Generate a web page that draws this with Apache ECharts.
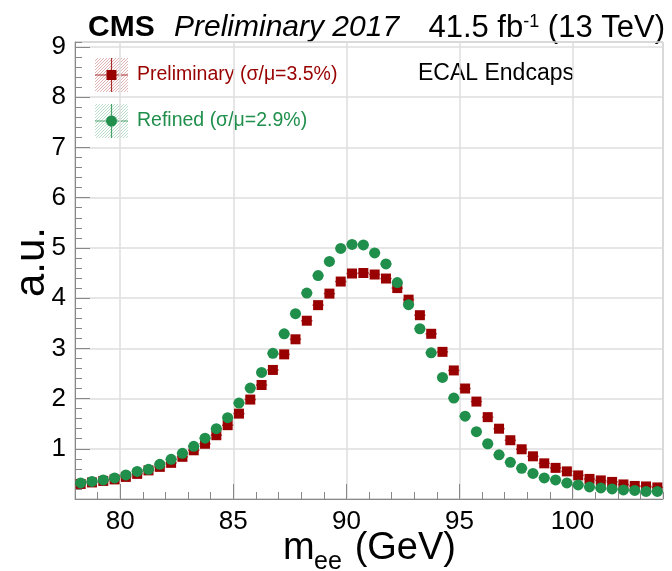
<!DOCTYPE html>
<html><head><meta charset="utf-8">
<script src="https://cdn.jsdelivr.net/npm/echarts@6/dist/echarts.min.js"></script>
<style>html,body{margin:0;padding:0;background:#fff}#c{width:672px;height:571px}</style>
</head><body><div id="c"></div>
<script>
// bin centres (GeV), 0.5 GeV bins
const massBins = [78.25,78.75,79.25,79.75,80.25,80.75,81.25,81.75,82.25,82.75,
  83.25,83.75,84.25,84.75,85.25,85.75,86.25,86.75,87.25,87.75,
  88.25,88.75,89.25,89.75,90.25,90.75,91.25,91.75,92.25,92.75,
  93.25,93.75,94.25,94.75,95.25,95.75,96.25,96.75,97.25,97.75,
  98.25,98.75,99.25,99.75,100.25,100.75,101.25,101.75,102.25,102.75,103.25,103.75];
const preliminary = [0.30,0.33,0.36,0.39,0.44,0.50,0.57,0.64,0.72,0.84,
  0.97,1.10,1.27,1.47,1.70,1.98,2.27,2.57,2.88,3.18,
  3.55,3.86,4.09,4.33,4.49,4.50,4.47,4.39,4.20,3.97,
  3.66,3.29,2.93,2.56,2.20,1.94,1.63,1.40,1.17,0.99,
  0.85,0.71,0.62,0.55,0.47,0.40,0.37,0.34,0.29,0.26,0.25,0.23];
const refined = [0.32,0.35,0.38,0.42,0.48,0.55,0.59,0.69,0.79,0.91,
  1.05,1.21,1.40,1.62,1.91,2.21,2.52,2.90,3.29,3.69,
  4.10,4.45,4.73,4.99,5.07,5.06,4.90,4.68,4.31,3.87,
  3.39,2.91,2.42,2.01,1.65,1.34,1.10,0.88,0.73,0.61,
  0.51,0.42,0.38,0.32,0.28,0.24,0.22,0.20,0.18,0.17,0.15,0.15];
const xTickLabels = ['80','85','90','95','100'];
const yTickLabels = ['1','2','3','4','5','6','7','8','9'];
const legendNames = ['Preliminary (σ/μ=3.5%)','Refined (σ/μ=2.9%)'];

const RED = '#990000', GREEN = '#1f8f4b';
const FONT = '"Liberation Sans", Arial, Helvetica, sans-serif';
const halfBin = 0.25;

function hatch(color){
  const cv = document.createElement('canvas'); cv.width = 3; cv.height = 3;
  const g = cv.getContext('2d');
  g.strokeStyle = color; g.lineWidth = 1;
  g.beginPath(); g.moveTo(0,3); g.lineTo(3,0); g.stroke();
  return {image: cv, repeat: 'repeat'};
}

const chart = echarts.init(document.getElementById('c'), null, {renderer:'canvas'});
const pts = arr => massBins.map((m,i)=>[m, arr[i]]);
function errBars(color){
  return function(params, api){
    const x = api.value(0), y = api.value(1);
    const a = api.coord([x-halfBin, y]), b = api.coord([x+halfBin, y]);
    return {type:'line', shape:{x1:a[0],y1:a[1],x2:b[0],y2:b[1]}, style:{stroke:color, lineWidth:1.5, opacity:0.7}};
  };
}
chart.setOption({
  animation:false,
  grid: {left:75, right:9, top:42, bottom:72, show:true, borderColor:'#999', borderWidth:1},
  xAxis: [{
    type:'value', min:78, max:104, splitNumber:5,
    axisLine:{show:true, lineStyle:{color:'#888'}},
    axisTick:{show:true, inside:true, length:15, lineStyle:{color:'#888'}},
    axisLabel:{color:'#000', fontSize:26, fontFamily:FONT, margin:10, showMinLabel:false, showMaxLabel:false,
      formatter: v => xTickLabels.indexOf(String(v))>=0 ? String(v) : ''},
    splitLine:{show:true, lineStyle:{color:'#dedede', width:1.5}}
  },{
    type:'value', min:78, max:104, interval:1, position:'bottom',
    axisLine:{show:false}, axisLabel:{show:false}, splitLine:{show:false},
    axisTick:{show:true, inside:true, length:7, lineStyle:{color:'#888'}}
  }],
  yAxis: [{
    type:'value', min:0, max:9.1, interval:1,
    axisLine:{show:true, lineStyle:{color:'#888'}},
    axisTick:{show:true, inside:true, length:15, lineStyle:{color:'#888'}},
    axisLabel:{color:'#000', fontSize:26, fontFamily:FONT, margin:9, showMinLabel:false, showMaxLabel:false,
      formatter: v => yTickLabels.indexOf(String(v))>=0 ? String(v) : ''},
    splitLine:{show:true, lineStyle:{color:'#dedede', width:1.5}}
  },{
    type:'value', min:0, max:9.1, interval:0.2, position:'left',
    axisLine:{show:false}, axisLabel:{show:false}, splitLine:{show:false},
    axisTick:{show:true, inside:true, length:7, lineStyle:{color:'#888'}}
  }],
  series: [
    {type:'custom', renderItem: errBars(RED), data: pts(preliminary), z:2, silent:true},
    {type:'scatter', data: pts(preliminary), symbol:'rect', symbolSize:10, itemStyle:{color:RED, opacity:1}, z:3},
    {type:'custom', renderItem: errBars(GREEN), data: pts(refined), z:4, silent:true},
    {type:'scatter', data: pts(refined), symbol:'circle', symbolSize:11, itemStyle:{color:GREEN, opacity:1}, z:5}
  ],
  graphic: [
    {type:'text', x:88, y:43, style:{text:'CMS', font:'bold 30px '+FONT, fill:'#000', textVerticalAlign:'bottom'}},
    {type:'text', x:174, y:43, style:{text:'Preliminary 2017', font:'italic 30px '+FONT, fill:'#000', textVerticalAlign:'bottom'}},
    {type:'text', x:665, y:44, style:{
      text:'{a|41.5 fb}{s|-1}{a| (13 TeV)}', textAlign:'right', textVerticalAlign:'bottom',
      rich:{a:{font:'31px '+FONT, fill:'#000', verticalAlign:'bottom'}, s:{font:'18px '+FONT, fill:'#000', verticalAlign:'top'}}
    }},
    {type:'text', x:418, y:74, style:{text:'ECAL Endcaps', font:'23px '+FONT, fill:'#000', textVerticalAlign:'middle'}},
    // legend
    {type:'rect', shape:{x:95,y:58,width:33,height:34}, style:{fill: hatch('rgba(153,0,0,0.3)')}},
    {type:'line', shape:{x1:95,y1:75,x2:128,y2:75}, style:{stroke:RED, lineWidth:1.2, opacity:0.8}},
    {type:'line', shape:{x1:111.5,y1:58,x2:111.5,y2:92}, style:{stroke:RED, lineWidth:1.2, opacity:0.8}},
    {type:'rect', shape:{x:106.5,y:70,width:10,height:10}, style:{fill:RED}},
    {type:'text', x:137, y:75, style:{text:legendNames[0], font:'19.5px '+FONT, fill:RED, textVerticalAlign:'middle'}},
    {type:'rect', shape:{x:95,y:104,width:33,height:34}, style:{fill: hatch('rgba(31,143,75,0.3)')}},
    {type:'line', shape:{x1:95,y1:121,x2:128,y2:121}, style:{stroke:GREEN, lineWidth:1.2, opacity:0.8}},
    {type:'line', shape:{x1:111.5,y1:104,x2:111.5,y2:138}, style:{stroke:GREEN, lineWidth:1.2, opacity:0.8}},
    {type:'circle', shape:{cx:111.5,cy:121,r:5.5}, style:{fill:GREEN}},
    {type:'text', x:137, y:121, style:{text:legendNames[1], font:'19.5px '+FONT, fill:GREEN, textVerticalAlign:'middle'}},
    // axis titles
    {type:'text', x:53, y:227, rotation:Math.PI/2, style:{text:'a.u.', font:'42px '+FONT, fill:'#000', textAlign:'right', textVerticalAlign:'bottom'}},
    {type:'text', x:283, y:549, style:{text:'m', font:'38px '+FONT, fill:'#000', textVerticalAlign:'middle'}},
    {type:'text', x:314, y:562, style:{text:'ee', font:'25px '+FONT, fill:'#000', textVerticalAlign:'middle'}},
    {type:'text', x:456, y:549, style:{text:'(GeV)', font:'38px '+FONT, fill:'#000', textAlign:'right', textVerticalAlign:'middle'}}
  ]
});
</script></body></html>
